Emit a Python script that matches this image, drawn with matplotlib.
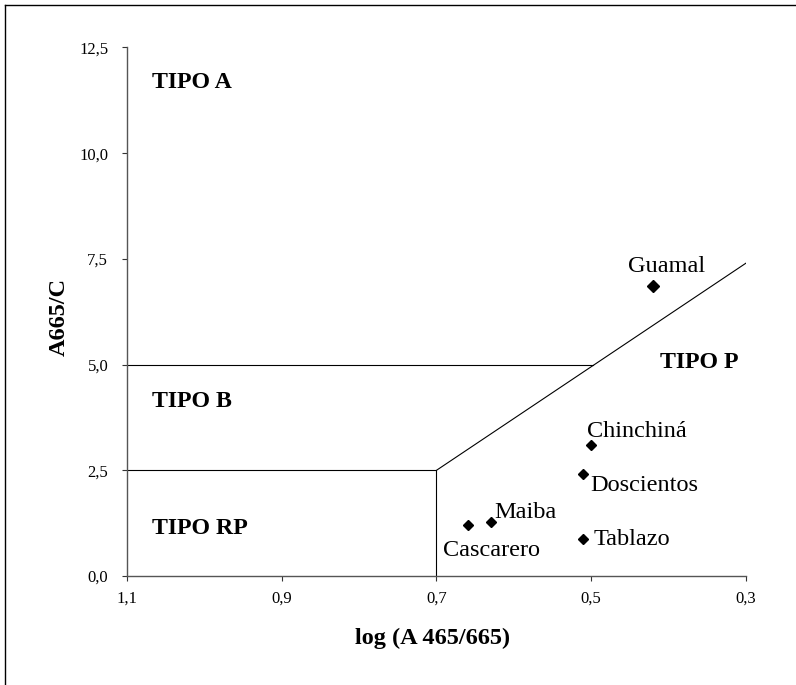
import matplotlib
matplotlib.use("Agg")
import matplotlib.pyplot as plt
from matplotlib.lines import Line2D

plt.rcParams['font.family'] = ['Liberation Serif', 'DejaVu Serif']

# data
names = ["Guamal", "Chinchiná", "Doscientos", "Tablazo", "Maiba", "Cascarero"]
log_ratio = [0.420, 0.500, 0.511, 0.511, 0.629, 0.659]
a665c = [6.87, 3.10, 2.41, 0.88, 1.28, 1.21]
marker_ms = [6.6, 4.7, 4.7, 4.7, 4.7, 4.7]
# label offsets in points (dx, dy) to the baseline-left of the text
label_off = [(-17.8, 10), (-3, 6), (5.3, -11.8), (7.6, -4.3), (2.2, 2.7), (-18.2, -22.3)]

# classification boundaries
bound_x_B = [1.1, 0.498]
bound_y_B = [5.0, 5.0]
bound_x_RP = [1.1, 0.7, 0.7]
bound_y_RP = [2.5, 2.5, 0.0]
diag_x = [0.7, 0.3]
diag_y = [2.5, 7.4]

regions = ["TIPO A", "TIPO B", "TIPO RP", "TIPO P"]
region_x = [1.068, 1.068, 1.068, 0.411]
region_y = [11.53, 4.0, 0.99, 4.92]

xticks = [1.1, 0.9, 0.7, 0.5, 0.3]
xticklabels = ["1,1", "0,9", "0,7", "0,5", "0,3"]
yticks = [0.0, 2.5, 5.0, 7.5, 10.0, 12.5]
yticklabels = ["0,0", "2,5", "5,0", "7,5", "10,0", "12,5"]

fig = plt.figure(figsize=(7.96, 6.85), dpi=100)
ax = fig.add_axes([0.1595, 0.1591, 0.9372 - 0.1595, 0.9307 - 0.1591])

# figure border (top/left visible)
fig.add_artist(Line2D([5/796, 5/796], [0, 1 - 5/685], transform=fig.transFigure, color='black', lw=1))
fig.add_artist(Line2D([5/796, 1], [1 - 5/685, 1 - 5/685], transform=fig.transFigure, color='black', lw=1))

ax.plot(bound_x_B, bound_y_B, color='black', lw=0.8)
ax.plot(bound_x_RP, bound_y_RP, color='black', lw=0.8)
ax.plot(diag_x, diag_y, color='black', lw=0.8)

for x, y, ms in zip(log_ratio, a665c, marker_ms):
    ax.plot([x], [y], marker='D', ms=ms, color='black', linestyle='none', clip_on=False)

for n, x, y, off in zip(names, log_ratio, a665c, label_off):
    ax.annotate(n, (x, y), xytext=off, textcoords='offset points', ha='left', va='baseline', fontsize=17.5)

for r, x, y in zip(regions, region_x, region_y):
    ax.text(x, y, r, fontsize=17.2, fontweight='bold', ha='left', va='baseline')

ax.set_xlim(1.1, 0.3)
ax.set_ylim(0, 12.5)
ax.set_xticks(xticks)
ax.set_xticklabels(xticklabels, fontsize=12)
ax.set_yticks(yticks)
ax.set_yticklabels(yticklabels, fontsize=12)
ax.tick_params(direction='out', length=3.5, width=0.8, colors='#333333', labelcolor='black')
ax.tick_params(axis='y', pad=10)
ax.tick_params(axis='x', pad=7)
for s in ['top', 'right']:
    ax.spines[s].set_visible(False)
for s in ['left', 'bottom']:
    ax.spines[s].set_color('#555555')
    ax.spines[s].set_linewidth(1.0)

ax.set_xlabel("log (A 465/665)", fontsize=17.5, fontweight='bold')
ax.set_ylabel("A665/C", fontsize=17.5, fontweight='bold')
ax.xaxis.set_label_coords(0.493, -0.0985)
ax.yaxis.set_label_coords(-0.092, 0.49)

fig.savefig("out.png", dpi=100)
